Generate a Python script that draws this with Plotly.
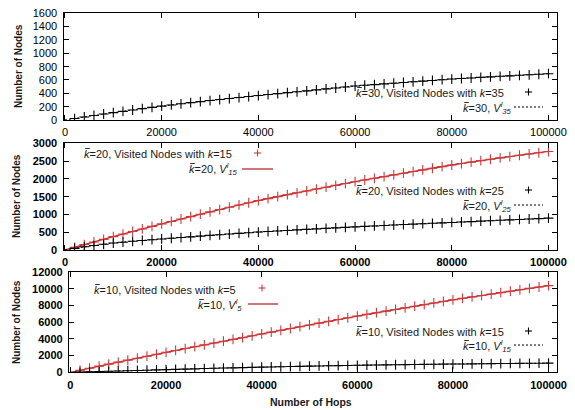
import plotly.graph_objects as go

# ---------------- data ----------------
hops = list(range(2000, 100001, 2000))
theory_hops = list(range(0, 100001, 10000))

# top panel: kbar=30, visited nodes with k=35
top_k35 = [22, 45, 68, 90, 110, 130, 150, 170, 190, 208,
           226, 243, 260, 276, 292, 307, 322, 337, 352, 367,
           382, 396, 410, 423, 436, 451, 466, 480, 495, 510,
           521, 531, 542, 552, 562, 573, 583, 593, 604, 614,
           622, 630, 639, 647, 655, 662, 670, 678, 686, 694]
top_v35 = [0, 110, 208, 292, 367, 436, 510, 562, 614, 655, 694]

# middle panel: kbar=20, k=15 (red) and k=25 (black)
mid_k15 = [75, 150, 225, 300, 375, 448, 520, 592, 663, 735,
           803, 871, 939, 1006, 1072, 1137, 1202, 1266, 1328, 1390,
           1445, 1500, 1555, 1608, 1660, 1713, 1765, 1817, 1868, 1920,
           1968, 2016, 2064, 2112, 2160, 2206, 2252, 2298, 2344, 2390,
           2431, 2472, 2512, 2551, 2590, 2627, 2664, 2700, 2735, 2770]
mid_v15 = [0, 375, 735, 1072, 1390, 1660, 1920, 2160, 2390, 2590, 2770]
mid_k25 = [45, 90, 125, 160, 195, 220, 245, 268, 290, 310,
           330, 350, 370, 390, 410, 429, 448, 467, 486, 505,
           520, 535, 550, 565, 580, 594, 608, 622, 636, 650,
           663, 676, 689, 702, 715, 727, 739, 751, 763, 775,
           787, 799, 811, 823, 835, 847, 859, 871, 883, 895]
mid_v25 = [0, 195, 310, 410, 505, 580, 650, 715, 775, 835, 895]

# bottom panel: kbar=10, k=5 (red) and k=15 (black)
bot_k5 = [250, 495, 740, 980, 1220, 1460, 1695, 1930, 2165, 2400,
          2625, 2850, 3070, 3290, 3510, 3730, 3950, 4165, 4380, 4600,
          4820, 5040, 5255, 5470, 5685, 5900, 6115, 6330, 6540, 6750,
          6950, 7150, 7345, 7540, 7735, 7930, 8125, 8320, 8510, 8700,
          8875, 9050, 9220, 9390, 9560, 9730, 9900, 10070, 10235, 10400]
bot_v5 = [0, 1220, 2400, 3510, 4600, 5685, 6750, 7735, 8700, 9560, 10400]
bot_k15 = [30, 60, 90, 120, 150, 185, 220, 255, 290, 320,
           352, 384, 416, 448, 480, 508, 536, 564, 592, 620,
           644, 668, 692, 716, 740, 760, 780, 800, 820, 840,
           856, 872, 888, 904, 920, 934, 948, 962, 976, 990,
           1002, 1014, 1026, 1038, 1050, 1060, 1070, 1080, 1090, 1100]
bot_v15 = [0, 150, 320, 480, 620, 740, 840, 920, 990, 1050, 1100]

x_ticks = [0, 20000, 40000, 60000, 80000, 100000]
x_tick_labels = ["0", "20000", "40000", "60000", "80000", "100000"]
top_y_ticks = list(range(0, 1601, 200))
mid_y_ticks = list(range(0, 3001, 500))
bot_y_ticks = list(range(0, 12001, 2000))

legend_texts = {
    "top1": "<i>k</i>=30, Visited Nodes with <i>k</i>=35",
    "top2": "<i>k</i>=30, <i>V</i><sup><i>l</i></sup><sub><i>35</i></sub>",
    "midr1": "<i>k</i>=20, Visited Nodes with <i>k</i>=15",
    "midr2": "<i>k</i>=20, <i>V</i><sup><i>l</i></sup><sub><i>15</i></sub>",
    "midb1": "<i>k</i>=20, Visited Nodes with <i>k</i>=25",
    "midb2": "<i>k</i>=20, <i>V</i><sup><i>l</i></sup><sub><i>25</i></sub>",
    "botr1": "<i>k</i>=10, Visited Nodes with <i>k</i>=5",
    "botr2": "<i>k</i>=10, <i>V</i><sup><i>l</i></sup><sub><i>5</i></sub>",
    "botb1": "<i>k</i>=10, Visited Nodes with <i>k</i>=15",
    "botb2": "<i>k</i>=10, <i>V</i><sup><i>l</i></sup><sub><i>15</i></sub>",
}

# ---------------- style ----------------
W, H = 575, 410
FONT = "Liberation Sans, Arial, Helvetica, sans-serif"
RED_M = "#d23a3a"
RED_L = "#c0282a"
BLACK = "#000000"
TXT = "#1a1a1a"


def px(x):
    return x / W


def py(y):
    return 1 - y / H


fig = go.Figure()


def add_panel(xa, ya, sim, theory, color_m, color_l, dotted):
    fig.add_trace(go.Scatter(
        x=theory_hops, y=theory, xaxis=xa, yaxis=ya, mode="lines",
        line=dict(color=color_l, width=1 if dotted else 1.3,
                  dash="2px,2px" if dotted else "solid", shape="spline"),
        showlegend=False, hoverinfo="skip"))
    fig.add_trace(go.Scatter(
        x=hops, y=sim, xaxis=xa, yaxis=ya, mode="markers",
        marker=dict(symbol="cross-thin", size=7,
                    line=dict(color=color_m, width=1.1), color=color_m),
        showlegend=False))


add_panel("x", "y", top_k35, top_v35, BLACK, BLACK, True)
add_panel("x2", "y2", mid_k15, mid_v15, RED_M, RED_L, False)
add_panel("x2", "y2", mid_k25, mid_v25, BLACK, BLACK, True)
add_panel("x3", "y3", bot_k5, bot_v5, RED_M, RED_L, False)
add_panel("x3", "y3", bot_k15, bot_v15, BLACK, BLACK, True)


def xaxis(left, anchor, bold):
    return dict(domain=[px(left), px(556.7)], range=[-300, 101700],
                anchor=anchor, showline=True, linecolor="black", linewidth=1.2,
                mirror="ticks", ticks="inside", ticklen=5, tickcolor="black",
                tickvals=x_ticks, automargin=False,
                ticktext=[f"<b>{t}</b>" if bold else t for t in x_tick_labels],
                showgrid=False, zeroline=False, ticklabelstandoff=2,
                tickfont=dict(size=11, family=FONT, color="black"))


def yaxis(top, bottom, rng, ticks, anchor, bold):
    return dict(domain=[py(bottom), py(top)], range=rng, anchor=anchor,
                showline=True, linecolor="black", linewidth=1.2,
                mirror="ticks", ticks="inside", ticklen=5, tickcolor="black",
                tickvals=ticks, automargin=False,
                ticktext=[f"<b>{t}</b>" if bold else str(t) for t in ticks],
                showgrid=False, zeroline=False, ticklabelstandoff=3,
                tickfont=dict(size=11, family=FONT, color="black"))


fig.update_layout(
    width=W, height=H,
    margin=dict(l=0, r=0, t=0, b=0, autoexpand=False),
    paper_bgcolor="white", plot_bgcolor="white",
    font=dict(family=FONT, size=11, color="black"),
    showlegend=False,
    xaxis=xaxis(63.5, "y", False),
    yaxis=yaxis(13.3, 120, [0, 1600], top_y_ticks, "x", False),
    xaxis2=xaxis(63.5, "y2", True),
    yaxis2=yaxis(143.3, 250, [0, 3000], mid_y_ticks, "x2", True),
    xaxis3=xaxis(69, "y3", True),
    yaxis3=yaxis(272.3, 372.3, [0, 12000], bot_y_ticks, "x3", True),
)

annotations = []
shapes = []


def text(x, y, s, anchor="left", size=11, bold=False, angle=0):
    annotations.append(dict(
        x=px(x), y=py(y), xref="paper", yref="paper",
        text=f"<b>{s}</b>" if bold else s, borderpad=0,
        showarrow=False, xanchor=anchor, yanchor="middle", textangle=angle,
        font=dict(size=size, family=FONT, color=TXT)))


def key_text(x, y, s, baseline_dy):
    # left-anchored legend text, with a bar drawn over the leading k (k-bar)
    text(x, y, s)
    shapes.append(dict(type="line", xref="paper", yref="paper",
                       x0=px(x + 2.2), y0=py(y + baseline_dy - 9.5),
                       x1=px(x + 6.8), y1=py(y + baseline_dy - 9.5),
                       line=dict(color=TXT, width=0.9)))


def plus(cx, cy, color):
    for (x0, y0, x1, y1) in [(cx - 3.5, cy, cx + 3.5, cy), (cx, cy - 3.5, cx, cy + 3.5)]:
        shapes.append(dict(type="line", xref="paper", yref="paper",
                           x0=px(x0), y0=py(y0), x1=px(x1), y1=py(y1),
                           line=dict(color=color, width=1.1)))


def sample_line(x0, x1, y, color, dotted):
    shapes.append(dict(type="line", xref="paper", yref="paper",
                       x0=px(x0), y0=py(y), x1=px(x1), y1=py(y),
                       line=dict(color=color, width=1 if dotted else 1.3,
                                 dash="2px,2px" if dotted else "solid")))


R1 = 4.0   # baseline offset below centre, plain row
R2 = 4.0   # baseline offset below centre, row with sup/sub

# top key
key_text(355, 93, legend_texts["top1"], R1)
plus(528.5, 92, BLACK)
key_text(462, 108, legend_texts["top2"], R2)
sample_line(514, 543, 107, BLACK, True)
# middle red key
key_text(83, 154, legend_texts["midr1"], R1)
plus(257.5, 153, RED_M)
key_text(188, 169, legend_texts["midr2"], R2)
sample_line(242, 273, 169, RED_L, False)
# middle black key
key_text(355, 191, legend_texts["midb1"], R1)
plus(528.5, 190, BLACK)
key_text(462, 206, legend_texts["midb2"], R2)
sample_line(514, 543, 205, BLACK, True)
# bottom red key
key_text(93, 290, legend_texts["botr1"], R1)
plus(262, 288, RED_M)
key_text(197, 305, legend_texts["botr2"], R2)
sample_line(248, 278, 304, RED_L, False)
# bottom black key
key_text(355, 332, legend_texts["botb1"], R1)
plus(528.5, 331, BLACK)
key_text(462, 346, legend_texts["botb2"], R2)
sample_line(514, 543, 345, BLACK, True)

# axis titles
text(18, 66, "Number of Nodes", anchor="center", size=10, bold=True, angle=-90)
text(16, 196, "Number of Nodes", anchor="center", size=10, bold=True, angle=-90)
text(16, 322, "Number of Nodes", anchor="center", size=10, bold=True, angle=-90)
text(311, 402, "Number of Hops", anchor="center", size=10.5, bold=True)

fig.update_layout(annotations=annotations, shapes=shapes)

fig.write_html("out.html",
               config={"displayModeBar": False},
               post_script="document.body.style.margin='0px';"
                           "document.body.style.overflow='hidden';")
